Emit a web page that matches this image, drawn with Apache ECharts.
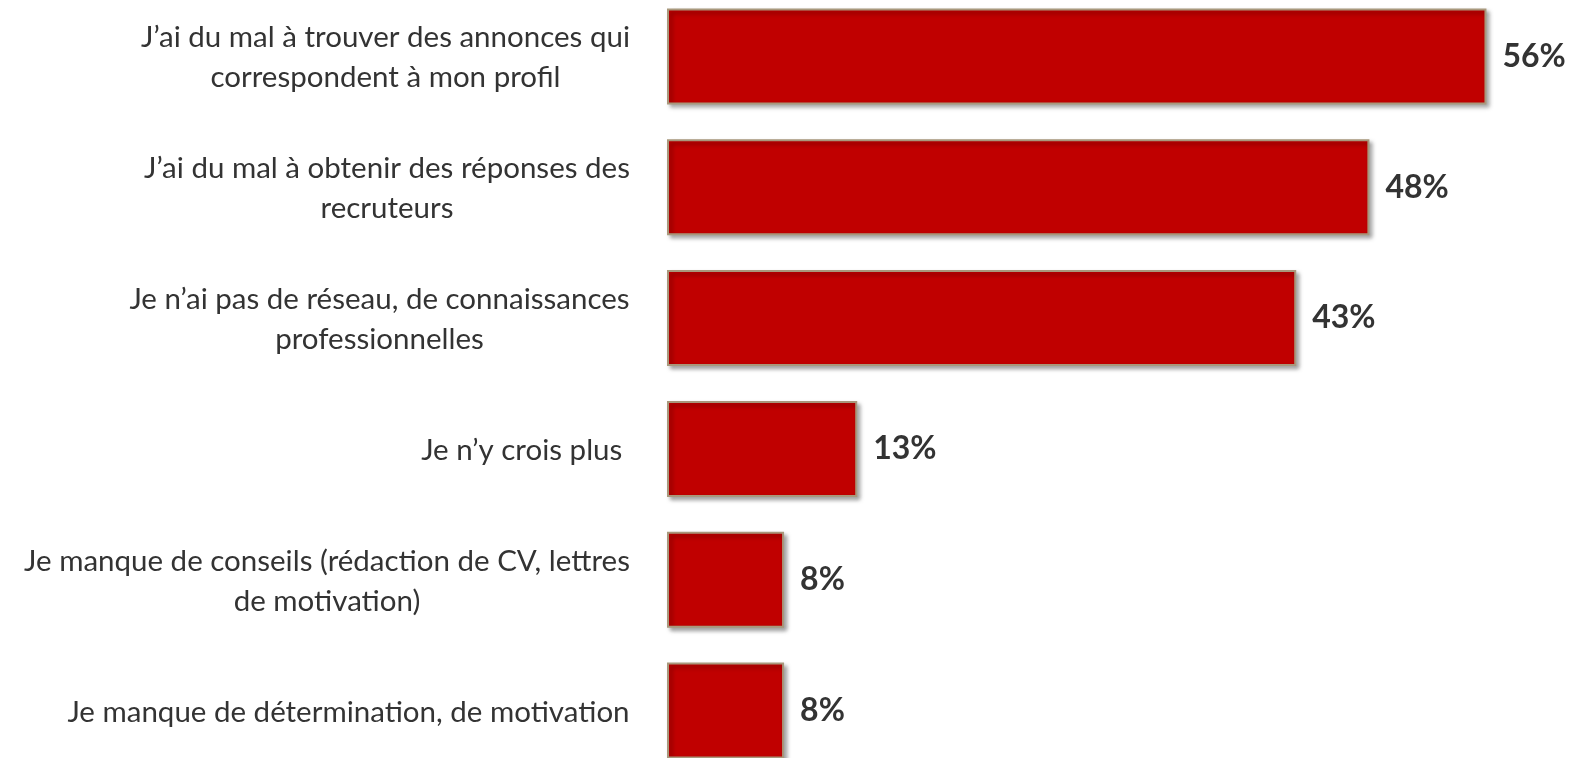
<!DOCTYPE html>
<html>
<head>
<meta charset="utf-8">
<script src="https://cdn.jsdelivr.net/npm/echarts@6/dist/echarts.min.js"></script>
<style>
  html, body { margin: 0; padding: 0; background: #fff; overflow: hidden; }
  /* la dernière barre est coupée en bas : zone de dessin plus haute que la fenêtre */
  #chart { position: relative; top: -9px; width: 1577px; height: 785px; }
</style>
</head>
<body>
<div id="chart"></div>
<script>
// catégories (de haut en bas)
var categories = [
  'J\u2019ai du mal à trouver des annonces qui\ncorrespondent à mon profil',
  'J\u2019ai du mal à obtenir des réponses des\nrecruteurs',
  'Je n\u2019ai pas de réseau, de connaissances\nprofessionnelles',
  'Je n\u2019y crois plus ',
  'Je manque de conseils (rédaction de CV, lettres\nde motivation)',
  'Je manque de détermination, de motivation'
]
var values = [56, 48, 43, 13, 8, 8]

var labelFont = 'Lato'
var labelSize = 29.5

// largeur du bloc de texte pour centrer les lignes
var ctx = document.createElement('canvas').getContext('2d')
ctx.font = labelSize + 'px ' + labelFont
var rich = {}
categories.forEach(function(c, i) {
  var w = 0
  c.split('\n').forEach(function(line) {
    w = Math.max(w, ctx.measureText(line).width)
  })
  rich['l' + i] = {
    width: Math.ceil(w) + 2,
    align: 'center',
    fontSize: labelSize,
    fontFamily: labelFont,
    color: '#333',
    lineHeight: 40,
    padding: [3, 0, 0, 0]
  }
})

var chart = echarts.init(document.getElementById('chart'))
chart.setOption({
  animation: false,
  grid: {
    left: 667,
    right: 32,
    top: 0,
    bottom: 0
  },
  xAxis: {
    type: 'value',
    min: 0,
    max: 60,
    show: false,
    splitLine: { show: false }
  },
  yAxis: {
    type: 'category',
    inverse: true,
    data: categories,
    axisLine: { show: false },
    axisTick: { show: false },
    axisLabel: {
      margin: 36,
      align: 'right',
      formatter: function(value, idx) {
        return '{l' + idx + '|' + value + '}'
      },
      rich: rich
    }
  },
  series: [{
    type: 'bar',
    data: values,
    barWidth: 96,
    itemStyle: {
      color: '#C00000',
      borderColor: '#A8987C',
      borderWidth: 2,
      shadowColor: 'rgba(0,0,0,0.35)',
      shadowBlur: 4,
      shadowOffsetX: 3,
      shadowOffsetY: 3
    },
    label: {
      show: true,
      position: 'right',
      distance: 16,
      formatter: '{c}%',
      fontFamily: 'Lato',
      fontWeight: 'bold',
      fontSize: 32,
      color: '#333'
    }
  }]
})
</script>
</body>
</html>
